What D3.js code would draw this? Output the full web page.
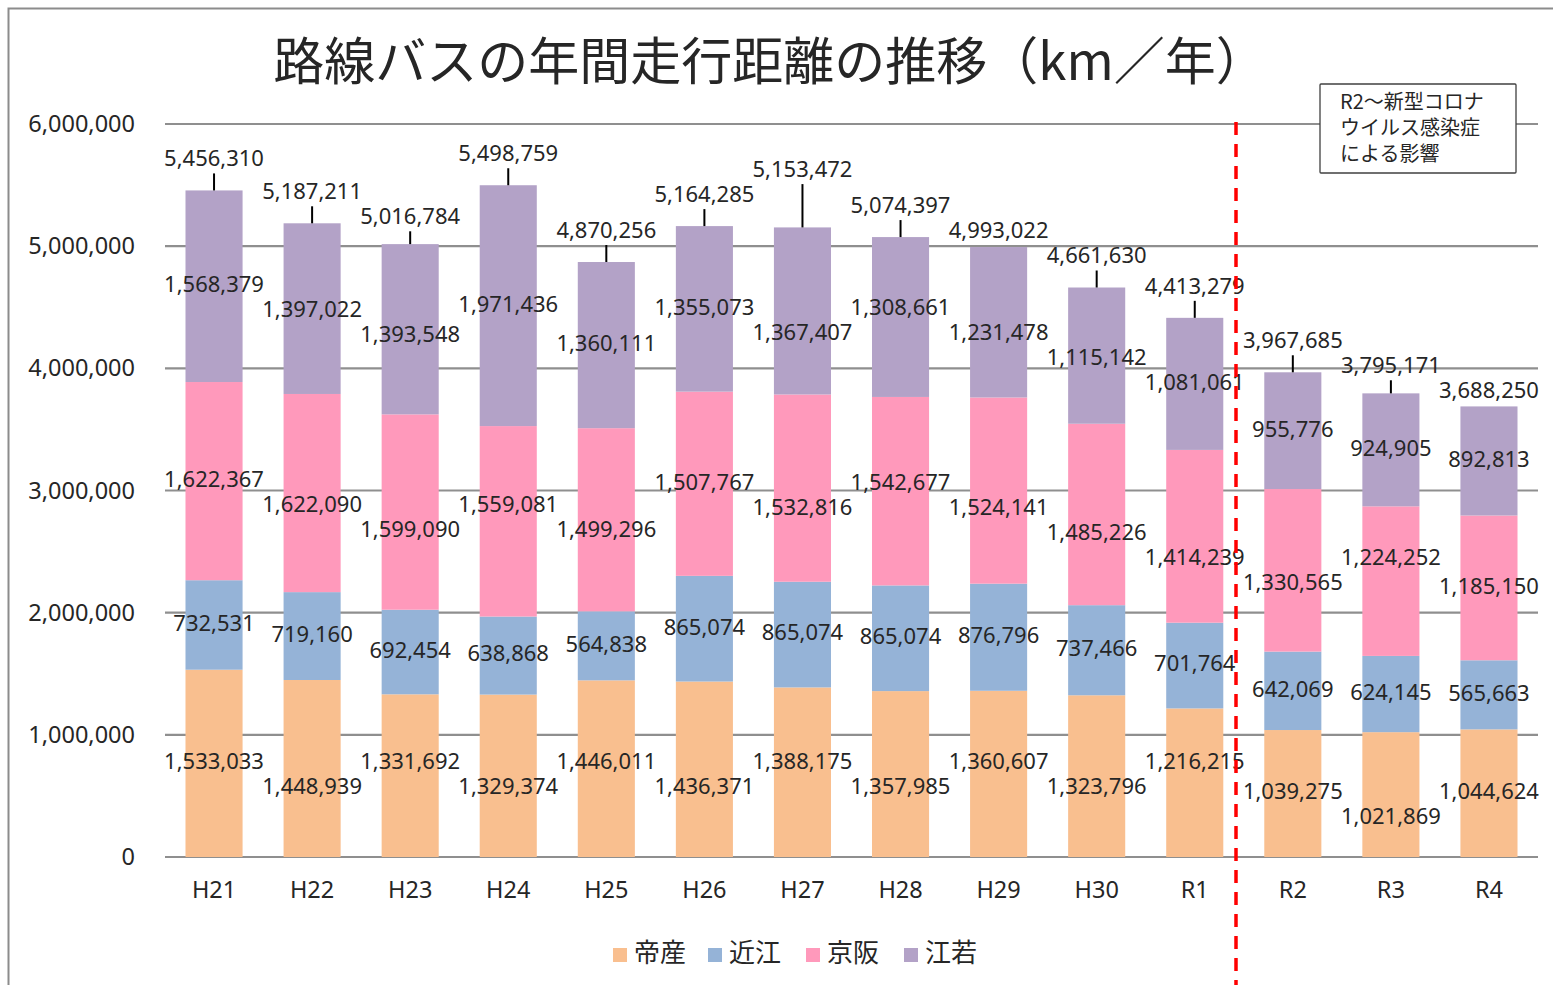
<!DOCTYPE html>
<html><head><meta charset="utf-8">
<script src="https://cdn.jsdelivr.net/npm/d3@7"></script>
<style>
body{margin:0;background:#fff;}
text{font-family:"Noto Sans","Noto Sans CJK JP",sans-serif;fill:#262626;}
</style></head>
<body><svg id="c" width="1553" height="985"></svg>
<script>
const categories = ["H21","H22","H23","H24","H25","H26","H27","H28","H29","H30","R1","R2","R3","R4"];
const seriesNames = ["帝産","近江","京阪","江若"];
const teisan = [1533033,1448939,1331692,1329374,1446011,1436371,1388175,1357985,1360607,1323796,1216215,1039275,1021869,1044624];
const ohmi   = [732531,719160,692454,638868,564838,865074,865074,865074,876796,737466,701764,642069,624145,565663];
const keihan = [1622367,1622090,1599090,1559081,1499296,1507767,1532816,1542677,1524141,1485226,1414239,1330565,1224252,1185150];
const kojaku = [1568379,1397022,1393548,1971436,1360111,1355073,1367407,1308661,1231478,1115142,1081061,955776,924905,892813];
const totals = [5456310,5187211,5016784,5498759,4870256,5164285,5153472,5074397,4993022,4661630,4413279,3967685,3795171,3688250];
const yTicks = [0,1000000,2000000,3000000,4000000,5000000,6000000];
const colors = ["#F9BF8F","#95B3D7","#FF99BB","#B3A2C7"];
const titleText = "路線バスの年間走行距離の推移（km／年）";
const noteLines = ["R2～新型コロナ","ウイルス感染症","による影響"];
const covidStart = "R2";

const svg = d3.select("#c");
const W=1553,H=985;
const m = {left:165,right:1538,top:124,bottom:857};

// outer border
svg.append("rect").attr("x",8.5).attr("y",8.5).attr("width",W).attr("height",H).attr("fill","none").attr("stroke","#8c8c8c").attr("stroke-width",2);

const x = d3.scaleBand().domain(categories).range([m.left,m.right]).paddingInner(0.418).paddingOuter(0.209);
const y = d3.scaleLinear().domain([0,6000000]).range([m.bottom,m.top]);
const fmt = d3.format(",");

// gridlines
svg.append("g").selectAll("line").data(yTicks).join("line")
  .attr("x1",m.left).attr("x2",m.right).attr("y1",d=>y(d)).attr("y2",d=>y(d))
  .attr("stroke","#8f8f8f").attr("stroke-width",2.2);

// y axis labels
const yAxis = d3.axisLeft(y).tickValues(yTicks).tickFormat(d=>fmt(d)).tickSize(0).tickPadding(30);
const yg = svg.append("g").attr("transform",`translate(${m.left},0)`).call(yAxis);
yg.select(".domain").remove();
yg.selectAll("text").style("font-size","23.5px").attr("fill","#262626");

// x axis labels
const xAxis = d3.axisBottom(x).tickSize(0).tickPadding(24);
const xg = svg.append("g").attr("transform",`translate(0,${m.bottom})`).call(xAxis);
xg.select(".domain").remove();
xg.selectAll("text").style("font-size","23.5px").attr("fill","#262626");

// stack
const rows = categories.map((c,i)=>({cat:c,"帝産":teisan[i],"近江":ohmi[i],"京阪":keihan[i],"江若":kojaku[i]}));
const stack = d3.stack().keys(seriesNames)(rows);

const layers = svg.append("g").selectAll("g").data(stack).join("g").attr("fill",(d,i)=>colors[i]);
layers.selectAll("rect").data(d=>d).join("rect")
  .attr("x",d=>x(d.data.cat)).attr("width",x.bandwidth())
  .attr("y",d=>y(d[1])).attr("height",d=>y(d[0])-y(d[1]));

const SEP = 25;
const lab = svg.append("g");
// segment labels: centred, nudged vertically away from a colliding left neighbour
stack.forEach((layer)=>{
  let prev = null;
  layer.forEach((d,i)=>{
    const v = d[1]-d[0];
    const wide = v >= 1000000;
    let ly = (y(d[0])+y(d[1]))/2;
    if (wide && prev && prev.wide && Math.abs(ly-prev.y) < SEP) {
      ly = (ly >= prev.y) ? prev.y + SEP : prev.y - SEP;
    }
    prev = {y:ly, wide};
    lab.append("text")
      .attr("x",x(d.data.cat)+x.bandwidth()/2)
      .attr("y",ly)
      .attr("text-anchor","middle").attr("dominant-baseline","middle")
      .style("font-size","22px")
      .text(fmt(v));
  });
});

// total labels with leader lines; nudged when colliding with left neighbour
let prevT = null;
categories.forEach((c,i)=>{
  const cx = x(c)+x.bandwidth()/2;
  const top = y(totals[i]);
  let ly = top - 30;
  if (prevT !== null && Math.abs(ly-prevT) < SEP) {
    const down = prevT + SEP;
    ly = (ly >= prevT && down + 12 <= top - 2) ? down : prevT - SEP;
  }
  prevT = ly;
  if (top - (ly+12) > 4) {
    lab.append("line").attr("x1",cx).attr("x2",cx).attr("y1",top).attr("y2",ly+13)
      .attr("stroke","#000").attr("stroke-width",2);
  }
  lab.append("text")
    .attr("x",cx)
    .attr("y",ly)
    .attr("text-anchor","middle").attr("dominant-baseline","middle")
    .style("font-size","22px")
    .text(fmt(totals[i]));
});

// red dashed separator
const ci = categories.indexOf(covidStart);
const prevRight = x(categories[ci-1])+x.bandwidth();
const sepX = prevRight + (x(categories[ci])-prevRight)*0.31;
svg.append("line").attr("x1",sepX).attr("x2",sepX).attr("y1",y(6000000)-2).attr("y2",H)
  .attr("stroke","#FF0000").attr("stroke-width",3.5).attr("stroke-dasharray","13,9");

// note box
const nb = svg.append("g").attr("transform","translate(1320,84)");
nb.append("rect").attr("x",0).attr("y",0).attr("width",196).attr("height",89).attr("fill","#fff").attr("stroke","#404040").attr("stroke-width",1.3).attr("rx",1);
noteLines.forEach((t,i)=>{
  nb.append("text").attr("x",20).attr("y",20+i*26).attr("dominant-baseline","middle")
    .style("font-family","'Noto Sans CJK JP',sans-serif").style("font-size","20px").text(t);
});

// title
svg.append("text").attr("x",770).attr("y",66).attr("text-anchor","middle").attr("dominant-baseline","middle")
  .style("font-family","'Noto Sans CJK JP',sans-serif").style("font-size","51px").attr("fill","#000").text(titleText);

// legend
const legX = [613,708,806,904];
const lg = svg.append("g");
seriesNames.forEach((s,i)=>{
  lg.append("rect").attr("x",legX[i]).attr("y",948).attr("width",14).attr("height",14).attr("fill",colors[i]);
  lg.append("text").attr("x",legX[i]+21).attr("y",955).attr("dominant-baseline","middle")
    .style("font-family","'Noto Sans CJK JP',sans-serif").style("font-size","26px").text(s);
});
</script></body></html>
